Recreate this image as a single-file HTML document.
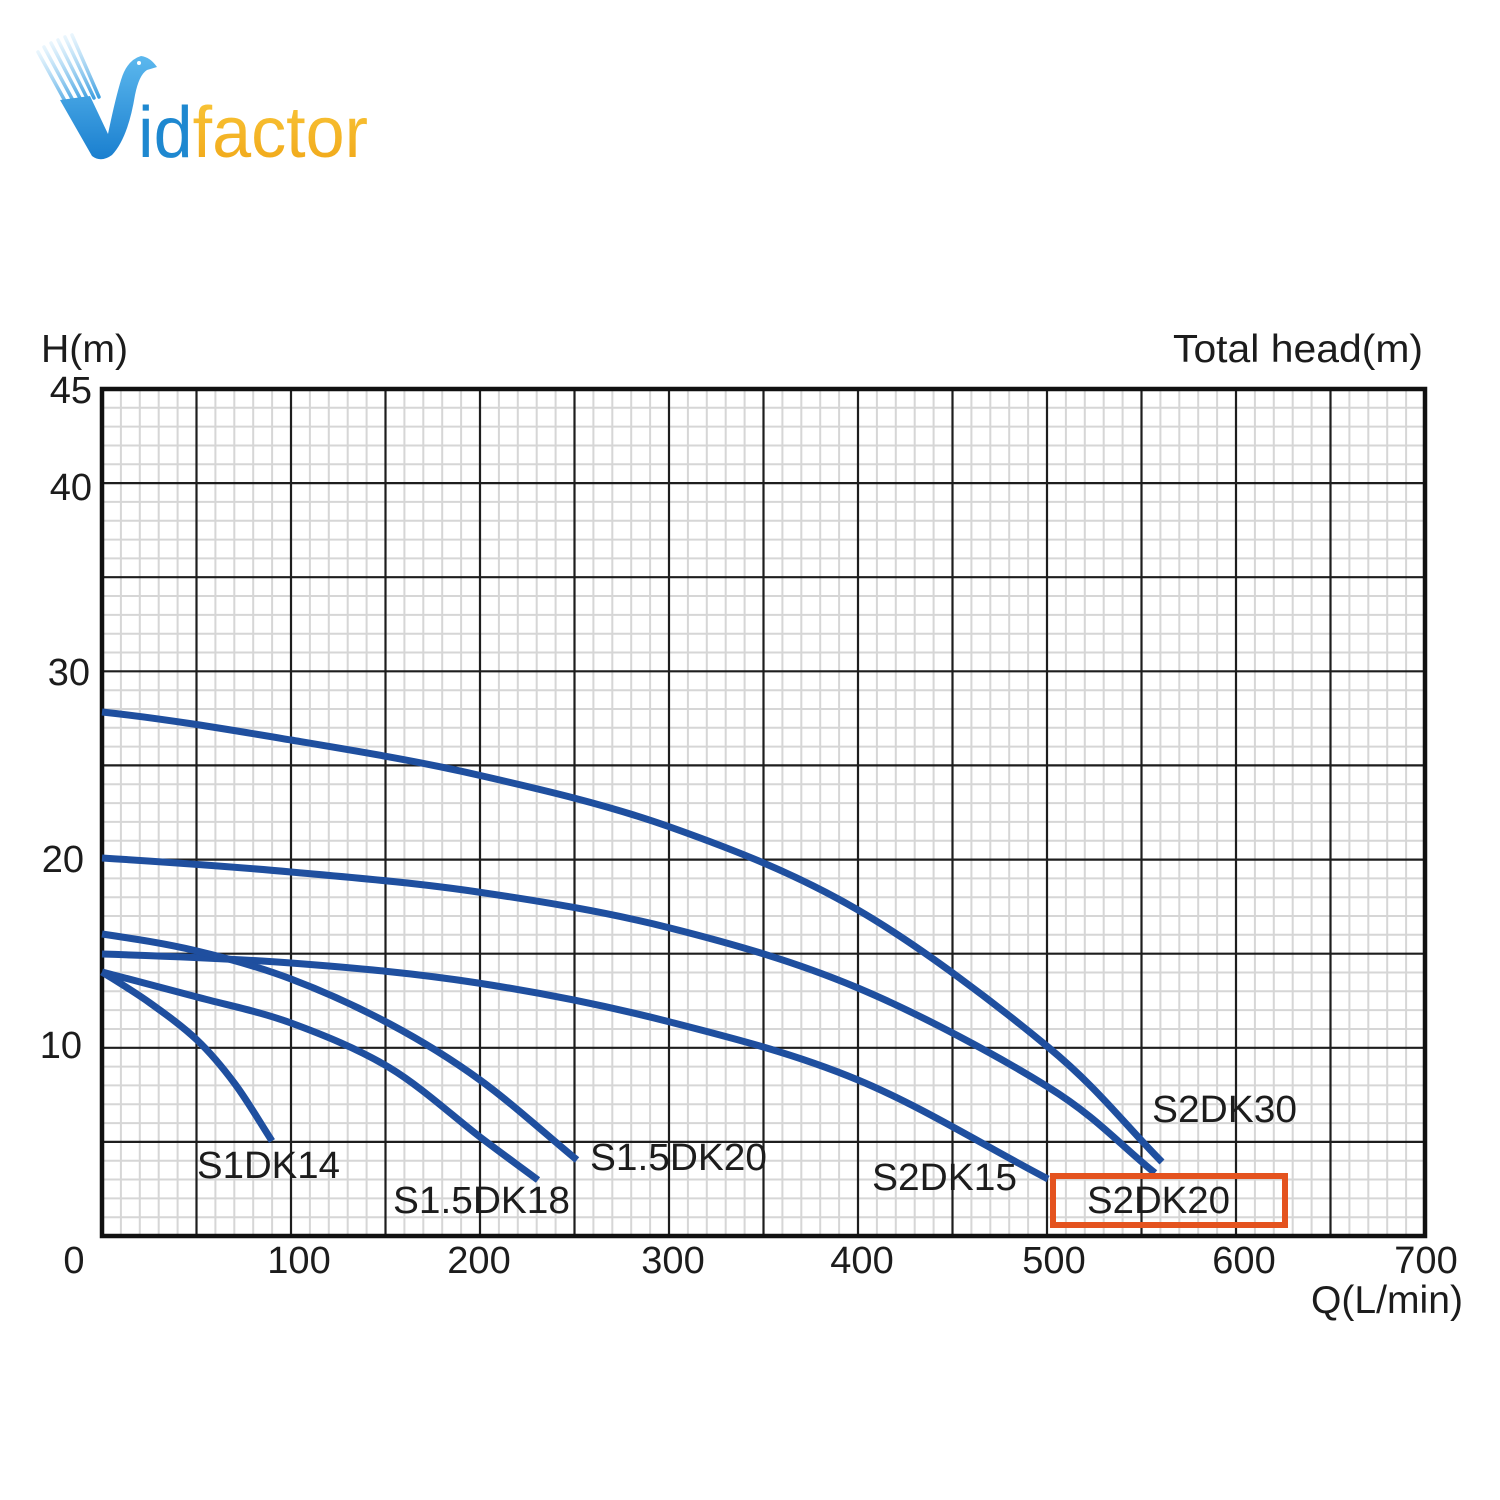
<!DOCTYPE html>
<html>
<head>
<meta charset="utf-8">
<style>
html,body{margin:0;padding:0;background:#fff;}
svg{display:block;}
text{font-family:"Liberation Sans",Arial,sans-serif;fill:#1c1c1c;}
</style>
</head>
<body>
<svg width="1500" height="1500" viewBox="0 0 1500 1500" xmlns="http://www.w3.org/2000/svg">
<defs>
<linearGradient id="vg" x1="0" y1="0" x2="0" y2="1">
<stop offset="0" stop-color="#5cb8ee"/>
<stop offset="1" stop-color="#1a7fcf"/>
</linearGradient>
<linearGradient id="sg" x1="0" y1="0" x2="0" y2="1">
<stop offset="0" stop-color="#8fcdf3" stop-opacity="0.2"/>
<stop offset="1" stop-color="#3f9fe0" stop-opacity="1"/>
</linearGradient>
<linearGradient id="og" x1="0" y1="0" x2="0" y2="1">
<stop offset="0" stop-color="#f9c73a"/>
<stop offset="1" stop-color="#f0a516"/>
</linearGradient>
</defs>
<rect width="1500" height="1500" fill="#fff"/>

<!-- Logo -->
<g>
<g stroke="url(#sg)" stroke-width="3.5" stroke-linecap="round">
<line x1="38" y1="52" x2="70" y2="110"/>
<line x1="44" y1="47" x2="76" y2="106"/>
<line x1="51" y1="43" x2="82" y2="102"/>
<line x1="58" y1="40" x2="88" y2="100"/>
<line x1="65" y1="37" x2="94" y2="98"/>
<line x1="72" y1="35" x2="99" y2="97"/>
</g>
<path d="M60 100 L90 96 L108 134 Q115 100 121 80 Q127 60 141 56 Q150 57 157 67 L147 70 Q139 75 135 95 Q128 138 112 155 Q101 163 92 156 Z" fill="url(#vg)"/>
<circle cx="139" cy="63" r="2" fill="#fff"/>
<text x="138" y="157" font-size="72" textLength="230" lengthAdjust="spacingAndGlyphs"><tspan style="fill:#1e88d0">id</tspan><tspan style="fill:url(#og)">factor</tspan></text>
</g>

<!-- minor grid -->
<path fill="none" stroke="#d6d6d6" stroke-width="2" d="
M120.9 389V1236M139.8 389V1236M158.7 389V1236M177.6 389V1236
M215.4 389V1236M234.3 389V1236M253.2 389V1236M272.1 389V1236
M309.9 389V1236M328.8 389V1236M347.7 389V1236M366.6 389V1236
M404.4 389V1236M423.3 389V1236M442.2 389V1236M461.1 389V1236
M498.9 389V1236M517.8 389V1236M536.7 389V1236M555.6 389V1236
M593.4 389V1236M612.3 389V1236M631.2 389V1236M650.1 389V1236
M687.9 389V1236M706.8 389V1236M725.7 389V1236M744.6 389V1236
M782.4 389V1236M801.3 389V1236M820.2 389V1236M839.1 389V1236
M876.9 389V1236M895.8 389V1236M914.7 389V1236M933.6 389V1236
M971.4 389V1236M990.3 389V1236M1009.2 389V1236M1028.1 389V1236
M1065.9 389V1236M1084.8 389V1236M1103.7 389V1236M1122.6 389V1236
M1160.4 389V1236M1179.3 389V1236M1198.2 389V1236M1217.1 389V1236
M1254.9 389V1236M1273.8 389V1236M1292.7 389V1236M1311.6 389V1236
M1349.4 389V1236M1368.3 389V1236M1387.2 389V1236M1406.1 389V1236
M102 1217.2H1425M102 1198.4H1425M102 1179.5H1425M102 1160.7H1425
M102 1123.1H1425M102 1104.2H1425M102 1085.4H1425M102 1066.6H1425
M102 1029H1425M102 1010.1H1425M102 991.3H1425M102 972.5H1425
M102 934.8H1425M102 916H1425M102 897.2H1425M102 878.4H1425
M102 840.7H1425M102 821.9H1425M102 803.1H1425M102 784.3H1425
M102 746.6H1425M102 727.8H1425M102 709H1425M102 690.2H1425
M102 652.5H1425M102 633.7H1425M102 614.9H1425M102 596H1425
M102 558.4H1425M102 539.6H1425M102 520.8H1425M102 501.9H1425
M102 464.3H1425M102 445.5H1425M102 426.6H1425M102 407.8H1425"/>

<!-- major grid -->
<path fill="none" stroke="#1e1e1e" stroke-width="2.2" d="
M196.5 389V1236M291 389V1236M385.5 389V1236M480 389V1236M574.5 389V1236
M669 389V1236M763.5 389V1236M858 389V1236M952.5 389V1236M1047 389V1236
M1141.5 389V1236M1236 389V1236M1330.5 389V1236
M102 1141.9H1425M102 1047.8H1425M102 953.7H1425M102 859.6H1425
M102 765.4H1425M102 671.3H1425M102 577.2H1425M102 483.1H1425"/>

<!-- border -->
<rect x="102" y="389" width="1323" height="847" fill="none" stroke="#111" stroke-width="4.5"/>

<!-- curves -->
<g fill="none" stroke="#1f4f9f" stroke-width="7" stroke-linejoin="round" stroke-linecap="butt">
<!-- S2DK30 -->
<path d="M102 712 C165 718.7 228.3 729.5 291 740 C353.7 750.5 414.8 760.5 478 775 C541.2 789.5 606.7 804.5 670 827 C733.3 849.5 795 873.3 858 910 C921 946.7 997.3 1005 1048 1047 C1098.7 1089 1124 1123.7 1162 1162"/>
<!-- S2DK20 -->
<path d="M102 858 C165 862 228.3 866.3 291 872 C353.7 877.7 414.8 882.7 478 892 C541.2 901.3 606.7 912 670 928 C733.3 944 795 961.5 858 988 C921 1014.5 998.5 1056.2 1048 1087 C1097.5 1117.8 1119.3 1144.3 1155 1173"/>
<!-- S2DK15 -->
<path d="M102 954 C165 956 228.3 958.2 291 963 C353.7 967.8 414.8 973.2 478 983 C541.2 992.8 606.7 1005.8 670 1022 C733.3 1038.2 795 1053.8 858 1080 C921 1106.2 984.7 1146 1048 1179"/>
<!-- S1.5DK20 -->
<path d="M102 934 C133.7 938.7 165.5 943.5 197 951 C228.5 958.5 258.8 966.8 291 979 C323.2 991.2 358.5 1007.2 390 1024 C421.5 1040.8 448.8 1057.3 480 1080 C511.2 1102.7 544.7 1133.3 577 1160"/>
<!-- S1.5DK18 -->
<path d="M102 972 C133.7 980.3 165.5 988.5 197 997 C228.5 1005.5 258.8 1011.2 291 1023 C323.2 1034.8 358.5 1049 390 1068 C421.5 1087 455.3 1118.3 480 1137 C504.7 1155.7 518.7 1165.7 538 1180"/>
<!-- S1DK14 -->
<path d="M102 972 C118 982 134.2 991.7 150 1003 C165.8 1014.3 182.8 1026.5 197 1040 C211.2 1053.5 222.5 1067.2 235 1084 C247.5 1100.8 259.7 1122 272 1141"/>
</g>

<!-- axis labels -->
<g font-size="38">
<text x="92" y="403" text-anchor="end">45</text>
<text x="92" y="500" text-anchor="end">40</text>
<text x="90" y="685" text-anchor="end">30</text>
<text x="84" y="872" text-anchor="end">20</text>
<text x="82" y="1058" text-anchor="end">10</text>
<text x="74" y="1273" text-anchor="middle">0</text>
<text x="299" y="1273" text-anchor="middle">100</text>
<text x="479" y="1273" text-anchor="middle">200</text>
<text x="673" y="1273" text-anchor="middle">300</text>
<text x="862" y="1273" text-anchor="middle">400</text>
<text x="1054" y="1273" text-anchor="middle">500</text>
<text x="1244" y="1273" text-anchor="middle">600</text>
<text x="1426" y="1273" text-anchor="middle">700</text>
</g>
<g font-size="39">
<text x="41" y="362" textLength="87" lengthAdjust="spacingAndGlyphs">H(m)</text>
<text x="1173" y="362" textLength="250" lengthAdjust="spacingAndGlyphs">Total head(m)</text>
<text x="1311" y="1313" textLength="152" lengthAdjust="spacingAndGlyphs">Q(L/min)</text>
</g>

<!-- curve labels -->
<g font-size="38">
<text x="197" y="1178" textLength="143" lengthAdjust="spacingAndGlyphs">S1DK14</text>
<text x="393" y="1213" textLength="177" lengthAdjust="spacingAndGlyphs">S1.5DK18</text>
<text x="590" y="1170" textLength="177" lengthAdjust="spacingAndGlyphs">S1.5DK20</text>
<text x="872" y="1190" textLength="145" lengthAdjust="spacingAndGlyphs">S2DK15</text>
<text x="1152" y="1122" textLength="145" lengthAdjust="spacingAndGlyphs">S2DK30</text>
<text x="1087" y="1213" textLength="143" lengthAdjust="spacingAndGlyphs">S2DK20</text>
</g>

<!-- highlight box -->
<rect x="1053" y="1176" width="232" height="49" fill="none" stroke="#e4531f" stroke-width="6"/>
</svg>
</body>
</html>
